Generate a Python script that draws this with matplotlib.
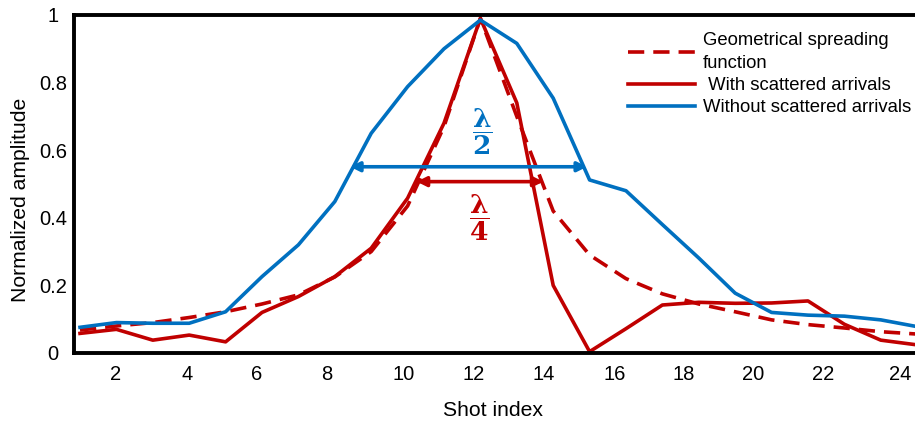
import matplotlib
matplotlib.use("Agg")
import matplotlib.pyplot as plt

plt.rcParams['font.family'] = ['Liberation Sans', 'DejaVu Sans']
plt.rcParams['mathtext.fontset'] = 'custom'
plt.rcParams['mathtext.bf'] = 'DejaVu Serif:bold'
plt.rcParams['mathtext.rm'] = 'DejaVu Serif'

# ---- data ----
shots = list(range(1, 25))
with_scattered = [0.058, 0.070, 0.038, 0.053, 0.033, 0.120, 0.167, 0.226, 0.310, 0.458,
                  0.680, 0.990, 0.740, 0.200, 0.004, 0.072, 0.142, 0.150, 0.147, 0.148,
                  0.154, 0.085, 0.038, 0.024]
without_scattered = [0.076, 0.090, 0.088, 0.088, 0.122, 0.226, 0.320, 0.448, 0.650, 0.788,
                     0.900, 0.985, 0.916, 0.754, 0.512, 0.480, 0.380, 0.281, 0.177, 0.120,
                     0.112, 0.109, 0.098, 0.078]
geometric = [0.068, 0.080, 0.090, 0.105, 0.122, 0.145, 0.172, 0.225, 0.300, 0.435,
             0.670, 0.990, 0.700, 0.420, 0.290, 0.220, 0.175, 0.145, 0.122, 0.098,
             0.084, 0.074, 0.063, 0.056]

xtick_pos = [1.99, 3.93, 5.86, 7.79, 9.89, 11.82, 13.75, 15.68, 17.59, 19.50, 21.41, 23.53]
xtick_labels = ['2', '4', '6', '8', '10', '12', '14', '16', '18', '20', '22', '24']
ytick_pos = [0, 0.2, 0.4, 0.6, 0.8, 1.0]
ytick_labels = ['0', '0.2', '0.4', '0.6', '0.8', '1']

half_lambda = (8.42, 14.93, 0.551)    # x start, x end, y
quarter_lambda = (10.25, 13.73, 0.507)

RED = '#C00000'
BLUE = '#0070C0'

fig = plt.figure(figsize=(9.15, 4.21), dpi=100)
ax = fig.add_axes([74/915, 68/421, 845/915, 338/421])

LW = 2.6
ax.plot(shots, geometric, color=RED, lw=LW, dashes=(4.5, 2.5),
        label='Geometrical spreading\nfunction')
ax.plot(shots, with_scattered, color=RED, lw=LW, label=' With scattered arrivals')
ax.plot(shots, without_scattered, color=BLUE, lw=LW, label='Without scattered arrivals')

# arrows
ax.annotate('', xy=(half_lambda[1], half_lambda[2]), xytext=(half_lambda[0], half_lambda[2]),
            arrowprops=dict(arrowstyle='<|-|>', color=BLUE, lw=LW, mutation_scale=14,
                            shrinkA=0, shrinkB=0))
ax.annotate('', xy=(quarter_lambda[1], quarter_lambda[2]), xytext=(quarter_lambda[0], quarter_lambda[2]),
            arrowprops=dict(arrowstyle='<|-|>', color=RED, lw=LW, mutation_scale=14,
                            shrinkA=0, shrinkB=0))

ax.text(12.05, 0.653, r'$\dfrac{\mathbf{\lambda}}{\mathbf{2}}$', color=BLUE, fontsize=19,
        ha='center', va='center')
ax.text(11.97, 0.400, r'$\dfrac{\mathbf{\lambda}}{\mathbf{4}}$', color=RED, fontsize=19,
        ha='center', va='center')

ax.set_xlim(0.835, 24.05)
ax.set_ylim(0, 1)
ax.set_xticks(xtick_pos)
ax.set_xticklabels(xtick_labels)
ax.set_yticks(ytick_pos)
ax.set_yticklabels(ytick_labels)
ax.tick_params(axis='both', length=0, labelsize=14.5)
ax.tick_params(axis='x', pad=9)
ax.tick_params(axis='y', pad=15)
for lab in ax.get_yticklabels():
    lab.set_horizontalalignment('center')

for s in ['left', 'bottom', 'top']:
    ax.spines[s].set_linewidth(2.8)
ax.spines['right'].set_visible(False)

ax.set_xlabel('Shot index', fontsize=15.2)
ax.xaxis.set_label_coords((493 - 74) / 845, -(410 - 353) / 338)
ax.set_ylabel('Normalized amplitude', fontsize=15.2)
ax.yaxis.set_label_coords(-(74 - 21) / 845, (353 - 200) / 338)
ax.yaxis.label.set_va('center')
ax.xaxis.label.set_va('center')

leg = ax.legend(loc='upper left', bbox_to_anchor=(628/915, 1 - 32/421), bbox_transform=fig.transFigure,
                frameon=False, fontsize=13.3, handlelength=3.6, handletextpad=0.45,
                labelspacing=0.27, borderpad=0, borderaxespad=0)
leg.get_texts()[0].set_linespacing(1.5)

fig.savefig('out.png', dpi=100)
